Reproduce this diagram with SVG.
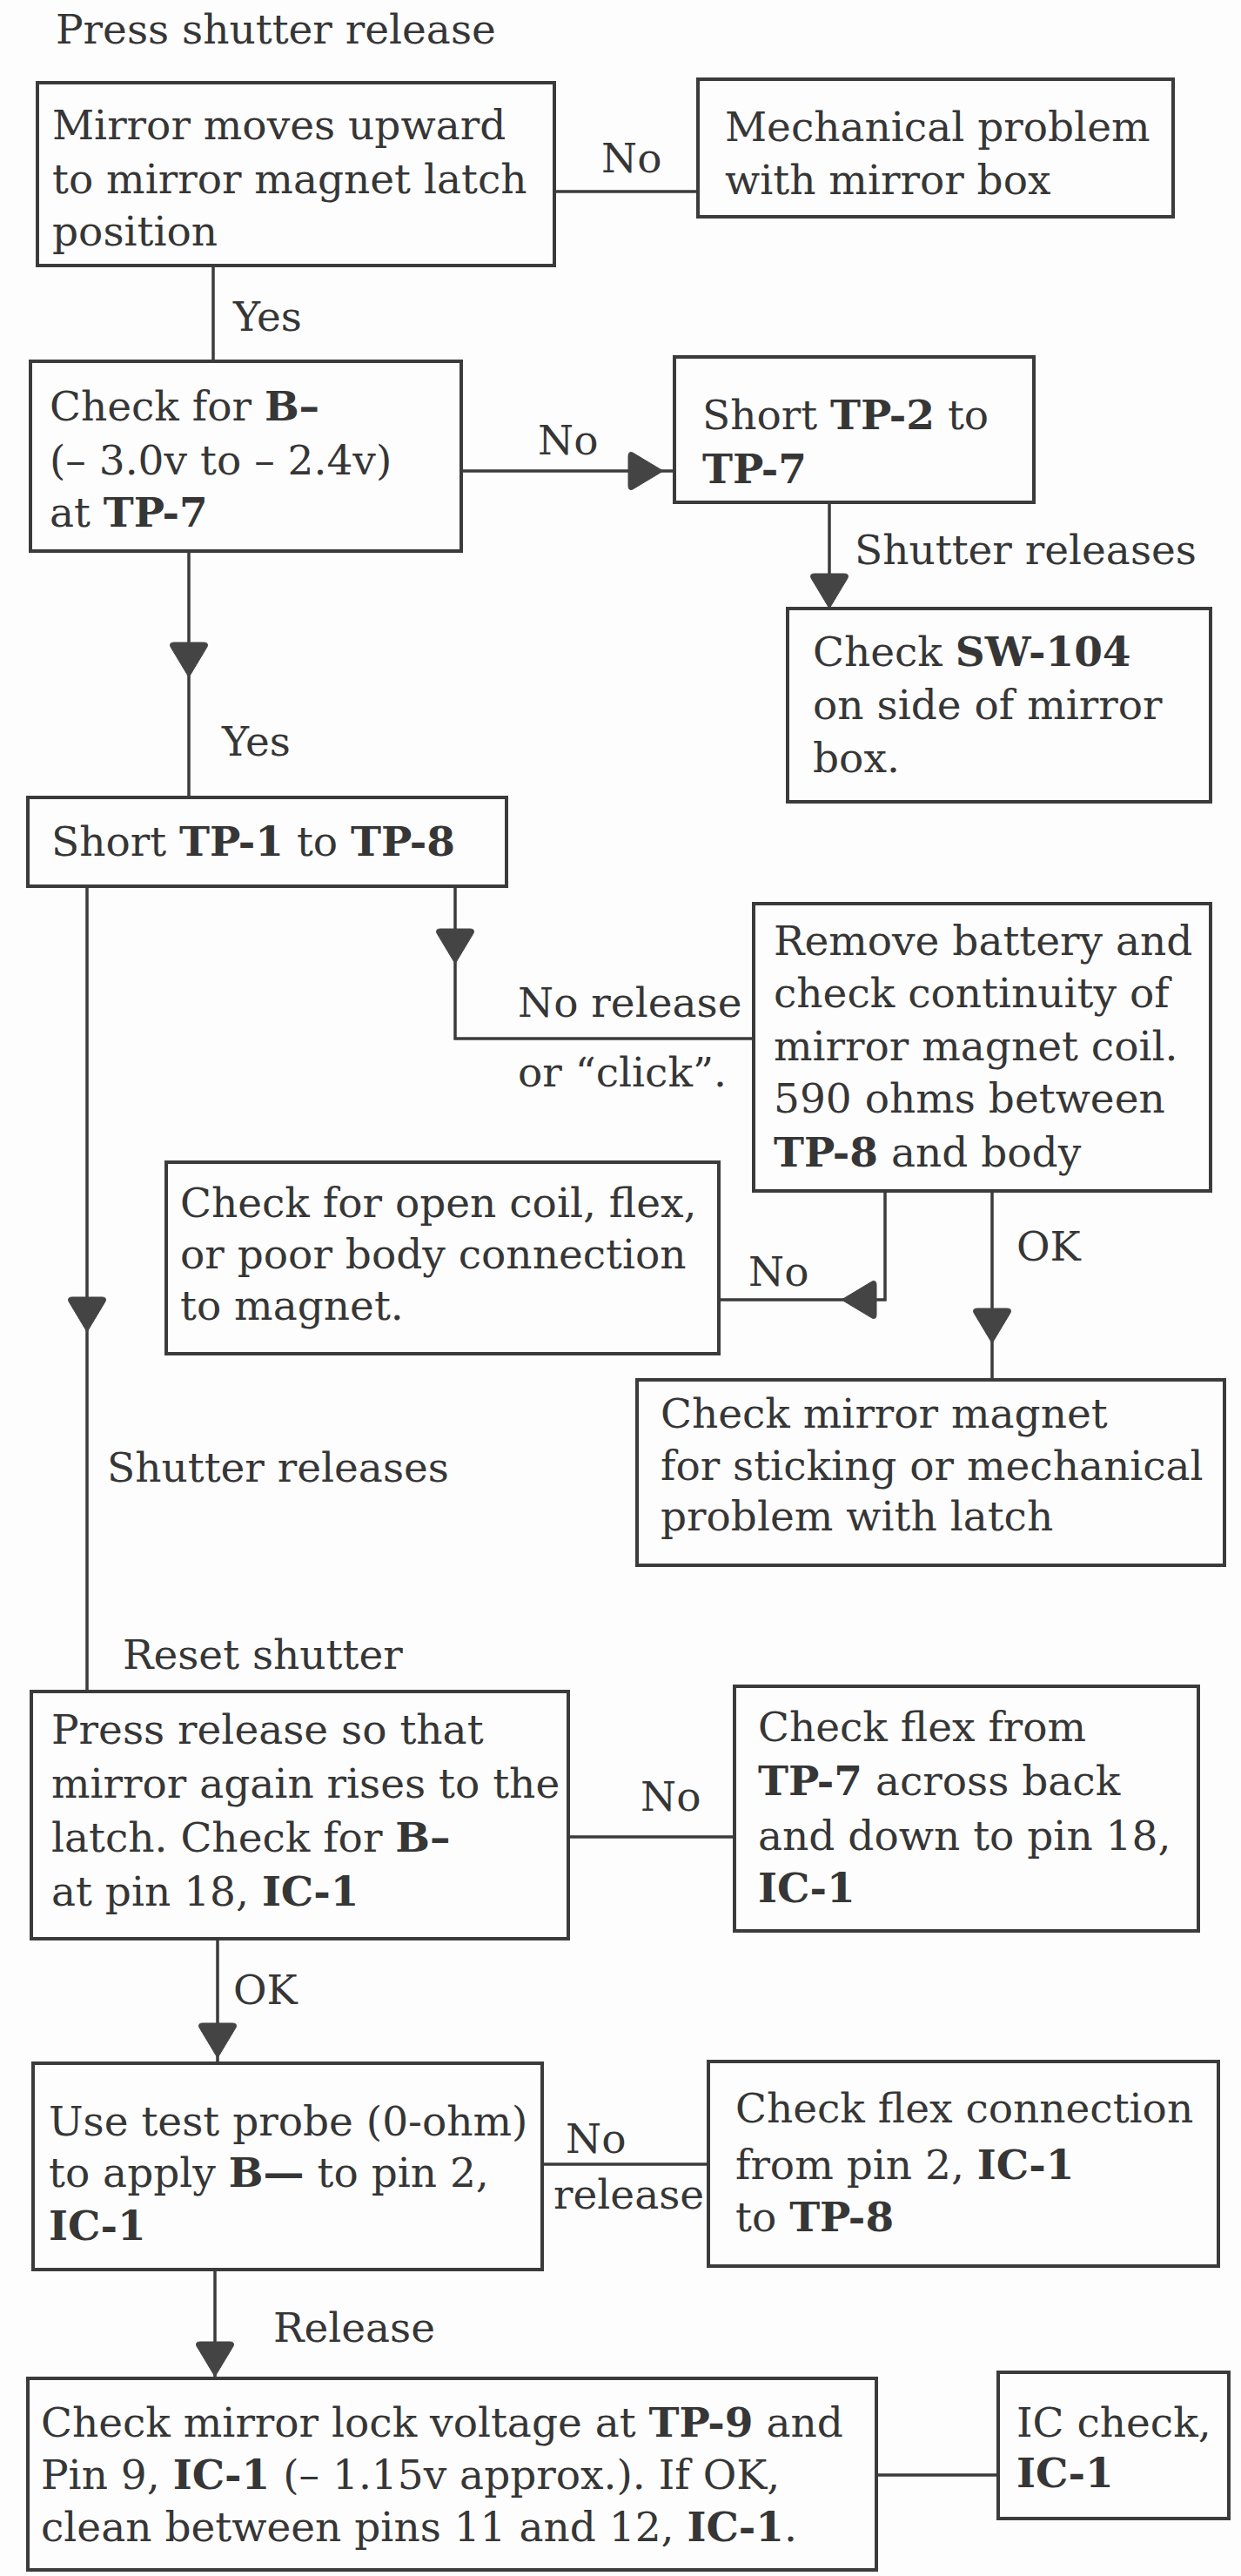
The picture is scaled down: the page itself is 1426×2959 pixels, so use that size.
<svg xmlns="http://www.w3.org/2000/svg" width="1426" height="2959" viewBox="0 0 1426 2959">
  <style>
    .box { fill: none; stroke: #3b3b3b; stroke-width: 4; }
    .wire { fill: none; stroke: #3b3b3b; stroke-width: 3.5; }
    .head { fill: #444; stroke: #444; stroke-width: 1; stroke-linejoin: round; }
    text { font-family: "DejaVu Serif", "Liberation Serif", serif; font-size: 47px; fill: #363636; }
    .b { font-weight: bold; }
  </style>
  <defs>
    <!-- arrowhead pointing along +y, tip at origin -->
    <path id="ah" d="M0,0 L-21,-35 Q-23,-40 -17,-40 L17,-40 Q23,-40 21,-35 Z"/>
  </defs>

  <rect width="1426" height="2959" fill="#fdfdfd"/>

  <g id="start">
    <text x="64" y="50">Press shutter release</text>
  </g>

  <!-- connectors -->
  <g id="connectors">
    <line class="wire" x1="637" y1="220" x2="802" y2="220"/>
    <line class="wire" x1="245" y1="305" x2="245" y2="415"/>
    <line class="wire" x1="530" y1="541" x2="775" y2="541"/>
    <line class="wire" x1="953" y1="577" x2="953" y2="699"/>
    <line class="wire" x1="217" y1="633" x2="217" y2="916"/>
    <line class="wire" x1="100" y1="1018" x2="100" y2="1943"/>
    <polyline class="wire" points="523,1018 523,1193 866,1193"/>
    <polyline class="wire" points="1017,1368 1017,1493 826,1493"/>
    <line class="wire" x1="1140" y1="1368" x2="1140" y2="1585"/>
    <line class="wire" x1="653" y1="2110" x2="844" y2="2110"/>
    <line class="wire" x1="250" y1="2227" x2="250" y2="2370"/>
    <line class="wire" x1="623" y1="2486" x2="814" y2="2486"/>
    <line class="wire" x1="247" y1="2607" x2="247" y2="2732"/>
    <line class="wire" x1="1007" y1="2843" x2="1147" y2="2843"/>

    <use href="#ah" class="head" transform="translate(762,541) rotate(-90)"/>
    <use href="#ah" class="head" transform="translate(953,699)"/>
    <use href="#ah" class="head" transform="translate(217,778)"/>
    <use href="#ah" class="head" transform="translate(100,1530)"/>
    <use href="#ah" class="head" transform="translate(523,1107)"/>
    <use href="#ah" class="head" transform="translate(967,1493) rotate(90)"/>
    <use href="#ah" class="head" transform="translate(1140,1543)"/>
    <use href="#ah" class="head" transform="translate(250,2364)"/>
    <use href="#ah" class="head" transform="translate(247,2730)"/>

    <text x="691" y="198">No</text>
    <text x="268" y="380">Yes</text>
    <text x="618" y="522">No</text>
    <text x="982" y="648">Shutter releases</text>
    <text x="255" y="868">Yes</text>
    <text x="595" y="1168">No release</text>
    <text x="595" y="1248">or “click”.</text>
    <text x="860" y="1477">No</text>
    <text x="1168" y="1448">OK</text>
    <text x="123" y="1702">Shutter releases</text>
    <text x="141" y="1917">Reset shutter</text>
    <text x="736" y="2080">No</text>
    <text x="268" y="2302">OK</text>
    <text x="650" y="2473">No</text>
    <text x="636" y="2537">release</text>
    <text x="314" y="2690">Release</text>
  </g>

  <g id="mirror-moves">
    <rect class="box" x="43" y="95" width="594" height="210"/>
    <text x="60" y="160">Mirror moves upward</text>
    <text x="60" y="222">to mirror magnet latch</text>
    <text x="60" y="282">position</text>
  </g>

  <g id="mechanical-problem">
    <rect class="box" x="802" y="91" width="546" height="158"/>
    <text x="833" y="162">Mechanical problem</text>
    <text x="833" y="223">with mirror box</text>
  </g>

  <g id="check-b-minus">
    <rect class="box" x="35" y="415" width="495" height="218"/>
    <text x="57" y="483">Check for <tspan class="b">B–</tspan></text>
    <text x="57" y="545">(– 3.0v to – 2.4v)</text>
    <text x="57" y="605">at <tspan class="b">TP-7</tspan></text>
  </g>

  <g id="short-tp2">
    <rect class="box" x="775" y="410" width="413" height="167"/>
    <text x="807" y="493">Short <tspan class="b">TP-2</tspan> to</text>
    <text x="807" y="555" class="b">TP-7</text>
  </g>

  <g id="check-sw104">
    <rect class="box" x="905" y="699" width="486" height="222"/>
    <text x="934" y="765">Check <tspan class="b">SW-104</tspan></text>
    <text x="934" y="826">on side of mirror</text>
    <text x="934" y="887">box.</text>
  </g>

  <g id="short-tp1">
    <rect class="box" x="32" y="916" width="550" height="102"/>
    <text x="59" y="983">Short <tspan class="b">TP-1</tspan> to <tspan class="b">TP-8</tspan></text>
  </g>

  <g id="remove-battery">
    <rect class="box" x="866" y="1038" width="525" height="330"/>
    <text x="889" y="1097">Remove battery and</text>
    <text x="889" y="1157">check continuity of</text>
    <text x="889" y="1218">mirror magnet coil.</text>
    <text x="889" y="1278">590 ohms between</text>
    <text x="889" y="1340"><tspan class="b">TP-8</tspan> and body</text>
  </g>

  <g id="open-coil">
    <rect class="box" x="191" y="1335" width="635" height="220"/>
    <text x="207" y="1398">Check for open coil, flex,</text>
    <text x="207" y="1457">or poor body connection</text>
    <text x="207" y="1516">to magnet.</text>
  </g>

  <g id="mirror-magnet">
    <rect class="box" x="732" y="1585" width="675" height="213"/>
    <text x="759" y="1640">Check mirror magnet</text>
    <text x="759" y="1700">for sticking or mechanical</text>
    <text x="759" y="1758">problem with latch</text>
  </g>

  <g id="press-release">
    <rect class="box" x="36" y="1943" width="617" height="284"/>
    <text x="59" y="2003">Press release so that</text>
    <text x="59" y="2065">mirror again rises to the</text>
    <text x="59" y="2127">latch. Check for <tspan class="b">B–</tspan></text>
    <text x="59" y="2189">at pin 18, <tspan class="b">IC-1</tspan></text>
  </g>

  <g id="flex-tp7">
    <rect class="box" x="844" y="1937" width="533" height="281"/>
    <text x="871" y="2000">Check flex from</text>
    <text x="871" y="2062"><tspan class="b">TP-7</tspan> across back</text>
    <text x="871" y="2125">and down to pin 18,</text>
    <text x="871" y="2185" class="b">IC-1</text>
  </g>

  <g id="test-probe">
    <rect class="box" x="38" y="2370" width="585" height="237"/>
    <text x="56" y="2453">Use test probe (0-ohm)</text>
    <text x="56" y="2512">to apply <tspan class="b">B—</tspan> to pin 2,</text>
    <text x="56" y="2573" class="b">IC-1</text>
  </g>

  <g id="flex-pin2">
    <rect class="box" x="814" y="2368" width="586" height="235"/>
    <text x="845" y="2438">Check flex connection</text>
    <text x="845" y="2503">from pin 2, <tspan class="b">IC-1</tspan></text>
    <text x="845" y="2563">to <tspan class="b">TP-8</tspan></text>
  </g>

  <g id="mirror-lock">
    <rect class="box" x="32" y="2732" width="975" height="220"/>
    <text x="47" y="2799">Check mirror lock voltage at <tspan class="b">TP-9</tspan> and</text>
    <text x="47" y="2859">Pin 9, <tspan class="b">IC-1</tspan> (– 1.15v approx.). If OK,</text>
    <text x="47" y="2919">clean between pins 11 and 12, <tspan class="b">IC-1</tspan>.</text>
  </g>

  <g id="ic-check">
    <rect class="box" x="1147" y="2725" width="265" height="168"/>
    <text x="1168" y="2799">IC check,</text>
    <text x="1168" y="2857" class="b">IC-1</text>
  </g>
</svg>
